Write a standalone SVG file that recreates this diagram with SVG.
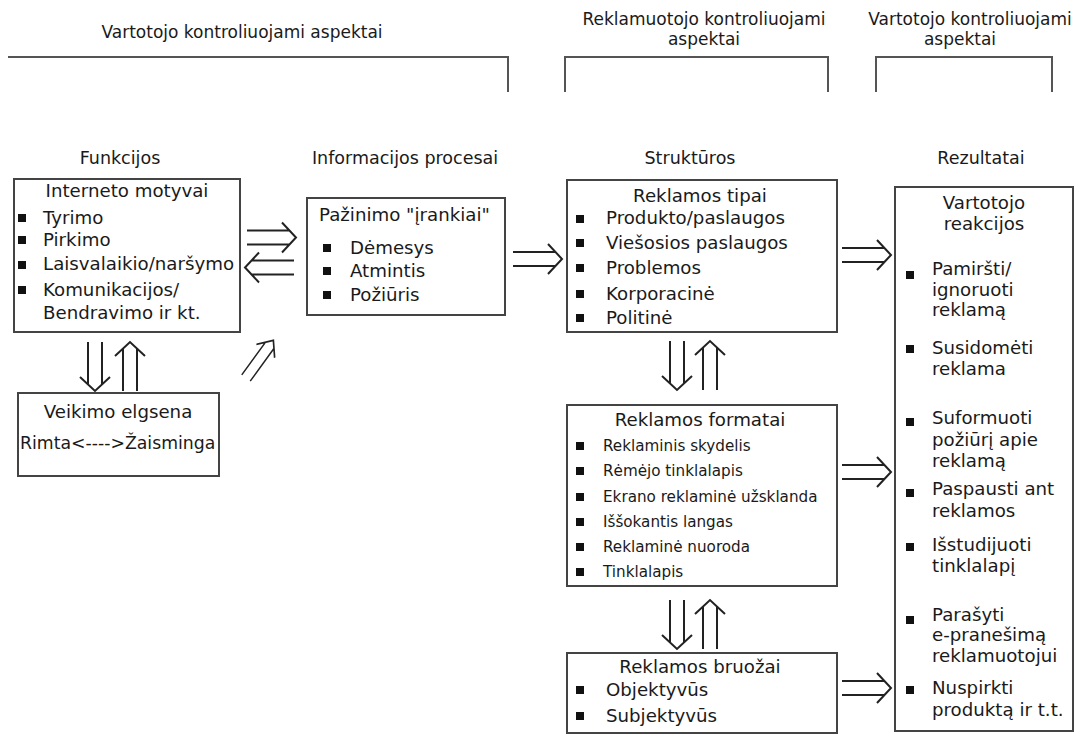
<svg xmlns="http://www.w3.org/2000/svg" width="1083" height="734" viewBox="0 0 1083 734">
<style>
text{font-family:"DejaVu Sans","Open Sans",sans-serif;fill:#1a1a1a}
.h{font-size:17px;text-anchor:middle}
.t{font-size:18.2px}
.tc{font-size:18.2px;text-anchor:middle}
.s{font-size:15.2px}
.box{fill:#fff;stroke:#444;stroke-width:2}
.br{fill:none;stroke:#555;stroke-width:2}
.arr{fill:none;stroke:#222;stroke-width:2}
.b{fill:#111}
</style>
<defs>
<path id="dbl" d="M0,-7 H43 M0,7 H43 M35,-15 L49,0 L35,15"/>
<rect id="bul" x="0" y="-4" width="8" height="8"/>
</defs>
<rect width="1083" height="734" fill="#fff"/>

<g id="brackets">
<text class="h" x="242" y="38" font-size="17.5">Vartotojo kontroliuojami aspektai</text>
<path class="br" d="M8,57 H508 V92"/>
<text class="h" x="704" y="25">Reklamuotojo kontroliuojami</text>
<text class="h" x="704" y="45">aspektai</text>
<path class="br" d="M565,92 V57 H828 V92"/>
<text class="h" x="970" y="25">Vartotojo kontroliuojami</text>
<text class="h" x="960" y="45">aspektai</text>
<path class="br" d="M876,92 V57 H1052 V92"/>
</g>

<g id="headings">
<text class="h" x="120" y="164" style="font-size:17.5px">Funkcijos</text>
<text class="h" x="405" y="164" style="font-size:17.5px">Informacijos procesai</text>
<text class="h" x="690" y="164" style="font-size:17.5px">Struktūros</text>
<text class="h" x="981" y="164" style="font-size:17.5px">Rezultatai</text>
</g>

<g id="interneto-motyvai">
<rect class="box" x="14" y="179" width="226" height="153"/>
<text class="tc" x="127" y="197">Interneto motyvai</text>
<use href="#bul" class="b" x="18" y="218"/><text class="t" x="43" y="224">Tyrimo</text>
<use href="#bul" class="b" x="18" y="240"/><text class="t" x="43" y="246">Pirkimo</text>
<use href="#bul" class="b" x="18" y="265"/><text class="t" x="43" y="270">Laisvalaikio/naršymo</text>
<use href="#bul" class="b" x="18" y="290"/><text class="t" x="43" y="296">Komunikacijos/</text>
<text class="t" x="43" y="319">Bendravimo ir kt.</text>
</g>

<g id="veikimo-elgsena">
<rect class="box" x="18" y="393" width="201" height="83"/>
<text class="tc" x="118" y="418">Veikimo elgsena</text>
<text class="t" x="20" y="449" style="font-size:17.3px">Rimta&lt;----&gt;Žaisminga</text>
</g>

<g id="pazinimo-irankiai">
<rect class="box" x="307" y="198" width="198" height="117"/>
<text class="t" x="319" y="221">Pažinimo "įrankiai"</text>
<use href="#bul" class="b" x="323" y="248"/><text class="t" x="350" y="254">Dėmesys</text>
<use href="#bul" class="b" x="323" y="271"/><text class="t" x="350" y="277">Atmintis</text>
<use href="#bul" class="b" x="323" y="295"/><text class="t" x="350" y="301">Požiūris</text>
</g>

<g id="reklamos-tipai">
<rect class="box" x="567" y="180" width="270" height="152"/>
<text class="tc" x="700" y="202">Reklamos tipai</text>
<use href="#bul" class="b" x="576" y="219"/><text class="t" x="606" y="224">Produkto/paslaugos</text>
<use href="#bul" class="b" x="576" y="243"/><text class="t" x="606" y="249">Viešosios paslaugos</text>
<use href="#bul" class="b" x="576" y="268"/><text class="t" x="606" y="274">Problemos</text>
<use href="#bul" class="b" x="576" y="294"/><text class="t" x="606" y="300">Korporacinė</text>
<use href="#bul" class="b" x="576" y="318"/><text class="t" x="606" y="324">Politinė</text>
</g>

<g id="reklamos-formatai">
<rect class="box" x="567" y="405" width="270" height="181"/>
<text class="tc" x="700" y="426">Reklamos formatai</text>
<use href="#bul" class="b" x="576" y="446"/><text class="s" x="603" y="451">Reklaminis skydelis</text>
<use href="#bul" class="b" x="576" y="471"/><text class="s" x="603" y="476">Rėmėjo tinklalapis</text>
<use href="#bul" class="b" x="576" y="497"/><text class="s" x="603" y="502">Ekrano reklaminė užsklanda</text>
<use href="#bul" class="b" x="576" y="522"/><text class="s" x="603" y="527">Iššokantis langas</text>
<use href="#bul" class="b" x="576" y="547"/><text class="s" x="603" y="552">Reklaminė nuoroda</text>
<use href="#bul" class="b" x="576" y="572"/><text class="s" x="603" y="577">Tinklalapis</text>
</g>

<g id="reklamos-bruozai">
<rect class="box" x="567" y="653" width="270" height="80"/>
<text class="tc" x="700" y="673">Reklamos bruožai</text>
<use href="#bul" class="b" x="576" y="690"/><text class="t" x="606" y="696">Objektyvūs</text>
<use href="#bul" class="b" x="576" y="716"/><text class="t" x="606" y="722">Subjektyvūs</text>
</g>

<g id="vartotojo-reakcijos">
<rect class="box" x="895" y="187" width="178" height="544"/>
<text class="tc" x="984" y="209">Vartotojo</text>
<text class="tc" x="984" y="230">reakcijos</text>
<use href="#bul" class="b" x="906" y="275"/><text class="t" x="932" y="275">Pamiršti/</text>
<text class="t" x="932" y="296">ignoruoti</text>
<text class="t" x="932" y="316">reklamą</text>
<use href="#bul" class="b" x="906" y="349"/><text class="t" x="932" y="354">Susidomėti</text>
<text class="t" x="932" y="375">reklama</text>
<use href="#bul" class="b" x="906" y="422"/><text class="t" x="932" y="424">Suformuoti</text>
<text class="t" x="932" y="446">požiūrį apie</text>
<text class="t" x="932" y="467">reklamą</text>
<use href="#bul" class="b" x="906" y="493"/><text class="t" x="932" y="495">Paspausti ant</text>
<text class="t" x="932" y="517">reklamos</text>
<use href="#bul" class="b" x="906" y="547"/><text class="t" x="932" y="551">Išstudijuoti</text>
<text class="t" x="932" y="572">tinklalapį</text>
<use href="#bul" class="b" x="906" y="620"/><text class="t" x="932" y="621">Parašyti</text>
<text class="t" x="932" y="641">e-pranešimą</text>
<text class="t" x="932" y="662">reklamuotojui</text>
<use href="#bul" class="b" x="906" y="690"/><text class="t" x="932" y="694">Nuspirkti</text>
<text class="t" x="932" y="716">produktą ir t.t.</text>
</g>

<g id="connectors" class="arr">
<use href="#dbl" transform="translate(247,237.5)"/>
<use href="#dbl" transform="translate(294,267.5) rotate(180)"/>
<use href="#dbl" transform="translate(513,259)"/>
<use href="#dbl" transform="translate(842,255)"/>
<use href="#dbl" transform="translate(842,472)"/>
<use href="#dbl" transform="translate(842,688)"/>
<use href="#dbl" transform="translate(95,342) rotate(90)"/>
<use href="#dbl" transform="translate(130,391) rotate(-90)"/>
<use href="#dbl" transform="translate(246,378) rotate(-54) scale(0.95,0.75)"/>
<use href="#dbl" transform="translate(677,341) rotate(90)"/>
<use href="#dbl" transform="translate(710,390) rotate(-90)"/>
<use href="#dbl" transform="translate(677,600) rotate(90)"/>
<use href="#dbl" transform="translate(710,649) rotate(-90)"/>
</g>
</svg>
